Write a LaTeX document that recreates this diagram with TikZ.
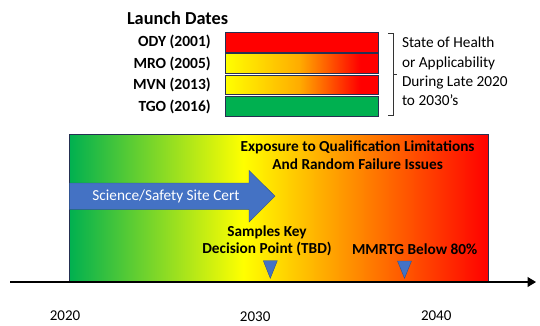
\documentclass[tikz,border=0pt]{standalone}
\usepackage{fontspec}
\setmainfont{Carlito}
\usetikzlibrary{arrows.meta}
\definecolor{okgreen}{RGB}{0,176,80}
\definecolor{midorange}{RGB}{255,172,0}
\definecolor{arrowblue}{RGB}{68,114,196}
\definecolor{edgeblue}{RGB}{47,82,143}
\definecolor{framenavy}{RGB}{38,48,82}
\pgfdeclarehorizontalshading{lifefade}{100bp}{color(0bp)=(okgreen); color(25bp)=(okgreen); color(45.75bp)=(yellow); color(75bp)=(red); color(100bp)=(red)}
\pgfdeclarehorizontalshading{agefade}{100bp}{color(0bp)=(yellow); color(25bp)=(yellow); color(49bp)=(midorange); color(69bp)=(red); color(100bp)=(red)}
\begin{document}
\begin{tikzpicture}[x=1pt,y=-1pt,semithick,>={Stealth[inset=0pt,length=8.5pt,width=10pt]},
        statebar/.style={draw=framenavy,line width=0.9pt},
        craft/.style={anchor=east,inner sep=0pt,font=\fontsize{15.5}{18}\selectfont\bfseries},
        tri/.style={fill=arrowblue,draw=edgeblue,thin},
        year/.style={inner sep=0pt,font=\fontsize{15}{17}\selectfont}]
    \useasboundingbox (0,0) rectangle (540,325);
    % launch dates and health bars
    \node[anchor=west,inner sep=0pt,font=\fontsize{18.3}{21}\selectfont\bfseries](title)at(126.7,18.3){Launch Dates};
    \node[craft](ody)at(211,42.3){ODY (2001)};
    \node[craft](mro)at(211,63.7){MRO (2005)};
    \node[craft](mvn)at(211,85.1){MVN (2013)};
    \node[craft](tgo)at(211,106.5){TGO (2016)};
    \draw[statebar,fill=red](225.7,32.5)rectangle(378.3,52);
    \shadedraw[statebar,shading=agefade](225.7,53.9)rectangle(378.3,73.4);
    \shadedraw[statebar,shading=agefade](225.7,75.3)rectangle(378.3,94.8);
    \draw[statebar,fill=okgreen](225.7,96.7)rectangle(378.3,116.2);
    \draw[thin,black!80](388,33)--(393,33)--(393,115)--(388,115);
    \draw[thin,black!80](393,74)--(396.5,74);
    \node[anchor=west,align=left,inner sep=0pt,font=\fontsize{15.3}{19.2}\selectfont](health)at(401.7,71.5){State of Health\\or Applicability\\During Late 2020\\to 2030’s};
    % timeline
    \shadedraw[shading=lifefade,draw=framenavy,line width=1pt](69.3,134.3)rectangle(488.5,282);
    \draw[fill=arrowblue,draw=edgeblue,thin](69.3,183)--(249,183)--(249,170.4)--(275,196.2)--(249,222)--(249,209.4)--(69.3,209.4)--cycle;
    \node[text=white,inner sep=0pt,font=\fontsize{15.3}{18}\selectfont](cert)at(166,196.2){Science/Safety Site Cert};
    \node[align=center,inner sep=0pt,font=\fontsize{15.3}{18.6}\selectfont\bfseries](expo)at(357.6,155){Exposure to Qualification Limitations\\And Random Failure Issues};
    \node[align=center,inner sep=0pt,font=\fontsize{15.3}{17}\selectfont\bfseries](samples)at(267,240.8){Samples Key\\Decision Point (TBD)};
    \node[inner sep=0pt,font=\fontsize{15.3}{17}\selectfont\bfseries](mmrtg)at(414.7,249){MMRTG Below 80\%};
    \draw[tri](263.3,260.7)--(277.3,260.7)--(270.3,278.3)--cycle;
    \draw[tri](397.5,261)--(411.5,261)--(404.5,278.3)--cycle;
    \coordinate(start)at(10,282);
    \coordinate(end)at(536,282);
    \draw[->,line width=1.2pt](start)--(end);
    \node[year](y20)at(65,316){2020};
    \node[year](y30)at(255.2,316.5){2030};
    \node[year](y40)at(436.2,316){2040};
\end{tikzpicture}
\end{document}
